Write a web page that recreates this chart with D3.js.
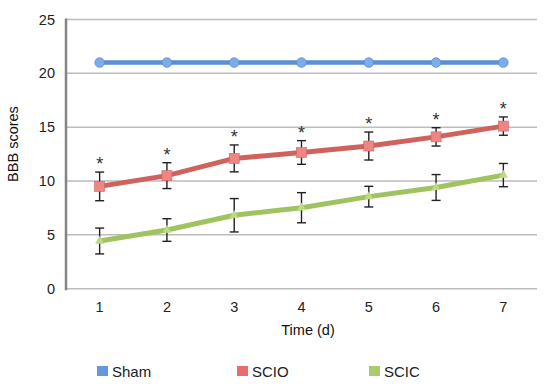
<!DOCTYPE html>
<html>
<head>
<meta charset="utf-8">
<script src="https://cdn.jsdelivr.net/npm/d3@7"></script>
<style>
  body { margin: 0; background: #fff; }
  svg { display: block; font-family: "Liberation Sans", Arial, sans-serif; }
</style>
</head>
<body>
<svg width="554" height="384"></svg>
<script>
// chart data
var days = [1, 2, 3, 4, 5, 6, 7];
var yTicks = [0, 5, 10, 15, 20, 25];
var shamVals = [21, 21, 21, 21, 21, 21, 21];
var scioVals = [9.5, 10.5, 12.1, 12.65, 13.25, 14.1, 15.1];
var scioErr  = [1.33, 1.2, 1.25, 1.1, 1.3, 0.85, 0.85];
var scicVals = [4.43, 5.45, 6.82, 7.52, 8.55, 9.4, 10.55];
var scicErr  = [1.2, 1.05, 1.55, 1.4, 0.96, 1.2, 1.08];
var seriesNames = ["Sham", "SCIO", "SCIC"];

var svg = d3.select("svg");

// plot box (window.top is reserved, so use other names)
var plotLeft = 66, plotRight = 537, plotTop = 19.5, plotBottom = 288.7;

var x = d3.scalePoint()
    .domain(days)
    .range([plotLeft, plotRight])
    .padding(0.5);

var y = d3.scaleLinear()
    .domain([0, 25])
    .range([plotBottom, plotTop]);

// gridlines
svg.append("g")
  .selectAll("line")
  .data(yTicks)
  .enter().append("line")
    .attr("x1", plotLeft)
    .attr("x2", plotRight)
    .attr("y1", function(d) { return y(d); })
    .attr("y2", function(d) { return y(d); })
    .attr("stroke", "#bdbdbd")
    .attr("stroke-width", 1.5);

// y axis line
svg.append("line")
    .attr("x1", plotLeft).attr("x2", plotLeft)
    .attr("y1", y(25) - 1).attr("y2", y(0) + 1.5)
    .attr("stroke", "#858585")
    .attr("stroke-width", 2.5);

// tick labels
svg.append("g")
  .selectAll("text")
  .data(yTicks)
  .enter().append("text")
    .attr("x", 55)
    .attr("y", function(d) { return y(d) + 5; })
    .attr("text-anchor", "end")
    .attr("font-size", 14.5)
    .attr("fill", "#222")
    .text(function(d) { return d; });

svg.append("g")
  .selectAll("text")
  .data(days)
  .enter().append("text")
    .attr("x", function(d) { return x(d); })
    .attr("y", 312)
    .attr("text-anchor", "middle")
    .attr("font-size", 14.5)
    .attr("fill", "#222")
    .text(function(d) { return d; });

svg.append("text")
    .attr("x", 308)
    .attr("y", 335)
    .attr("text-anchor", "middle")
    .attr("font-size", 14.5)
    .attr("fill", "#111")
    .text("Time (d)");

svg.append("text")
    .attr("transform", "translate(18,144) rotate(-90)")
    .attr("text-anchor", "middle")
    .attr("font-size", 14.5)
    .attr("fill", "#111")
    .text("BBB scores");

var line = d3.line()
    .x(function(d, i) { return x(days[i]); })
    .y(function(d) { return y(d); });

function errorBars(vals, errs) {
  var g = svg.append("g").attr("stroke", "#222").attr("stroke-width", 1.4);
  vals.forEach(function(v, i) {
    var cx = x(days[i]);
    g.append("line").attr("x1", cx).attr("x2", cx)
      .attr("y1", y(v + errs[i])).attr("y2", y(v - errs[i]));
    g.append("line").attr("x1", cx - 4.5).attr("x2", cx + 4.5)
      .attr("y1", y(v + errs[i])).attr("y2", y(v + errs[i]));
    g.append("line").attr("x1", cx - 4.5).attr("x2", cx + 4.5)
      .attr("y1", y(v - errs[i])).attr("y2", y(v - errs[i]));
  });
}

// Sham
svg.append("path")
    .attr("d", line(shamVals))
    .attr("fill", "none")
    .attr("stroke", "#5b8ed2")
    .attr("stroke-width", 4.5);
svg.append("g")
  .selectAll("circle")
  .data(shamVals)
  .enter().append("circle")
    .attr("cx", function(d, i) { return x(days[i]); })
    .attr("cy", function(d) { return y(d); })
    .attr("r", 4.8)
    .attr("fill", "#7dacea")
    .attr("stroke", "#5b8ed2")
    .attr("stroke-width", 0.8);

// SCIC
errorBars(scicVals, scicErr);
svg.append("path")
    .attr("d", line(scicVals))
    .attr("fill", "none")
    .attr("stroke", "#9fc45f")
    .attr("stroke-width", 5);
svg.append("g")
  .selectAll("path")
  .data(scicVals)
  .enter().append("path")
    .attr("d", d3.symbol().type(d3.symbolTriangle).size(36))
    .attr("transform", function(d, i) { return "translate(" + x(days[i]) + "," + y(d) + ")"; })
    .attr("fill", "#bcdb82");

// SCIO
errorBars(scioVals, scioErr);
svg.append("path")
    .attr("d", line(scioVals))
    .attr("fill", "none")
    .attr("stroke", "#d0625e")
    .attr("stroke-width", 5);
svg.append("g")
  .selectAll("rect")
  .data(scioVals)
  .enter().append("rect")
    .attr("x", function(d, i) { return x(days[i]) - 5; })
    .attr("y", function(d) { return y(d) - 5; })
    .attr("width", 10)
    .attr("height", 10)
    .attr("fill", "#f08684")
    .attr("stroke", "#d0625e")
    .attr("stroke-width", 0.6);

// significance stars
svg.append("g")
  .selectAll("text")
  .data(scioVals)
  .enter().append("text")
    .attr("x", function(d, i) { return x(days[i]); })
    .attr("y", function(d, i) { return y(d + scioErr[i]) - 2; })
    .attr("text-anchor", "middle")
    .attr("font-size", 18)
    .attr("fill", "#333")
    .text("*");

// legend
var legendX = [97, 237, 369];
var legendColors = ["#6598da", "#e66f6c", "#a9cd6a"];
var legend = svg.append("g")
  .selectAll("g")
  .data(seriesNames)
  .enter().append("g")
    .attr("transform", function(d, i) { return "translate(" + legendX[i] + ",366)"; });
legend.append("rect")
    .attr("width", 11)
    .attr("height", 10)
    .attr("fill", function(d, i) { return legendColors[i]; });
legend.append("text")
    .attr("x", 15)
    .attr("y", 10.5)
    .attr("font-size", 15)
    .attr("fill", "#222")
    .text(function(d) { return d; });
</script>
</body>
</html>
